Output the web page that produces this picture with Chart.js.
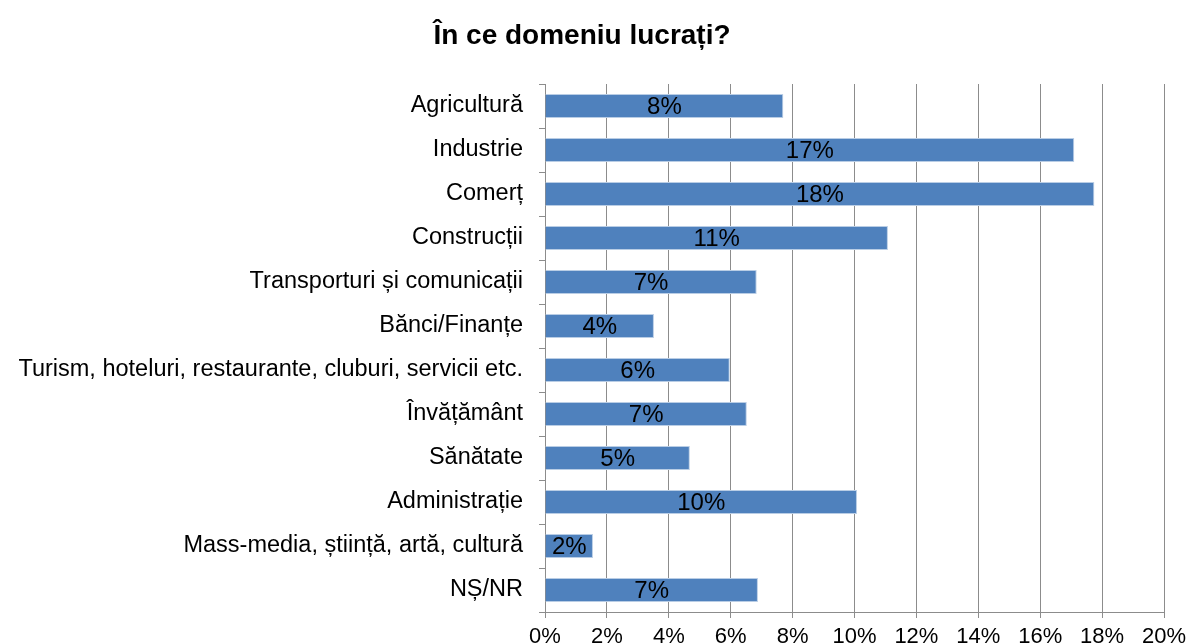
<!DOCTYPE html>
<html>
<head>
<meta charset="utf-8">
<script src="https://cdn.jsdelivr.net/npm/chart.js@4/dist/chart.umd.min.js"></script>
<style>
  html, body { margin: 0; padding: 0; background: #fff; overflow: hidden; }
  #wrap { width: 1190px; height: 660px; }
</style>
</head>
<body>
<div id="wrap"><canvas id="myChart" width="1190" height="660"></canvas></div>
<script>
// Chart data
const domains = ['Agricultură', 'Industrie', 'Comerț', 'Construcții', 'Transporturi și comunicații',
    'Bănci/Finanțe', 'Turism, hoteluri, restaurante, cluburi, servicii etc.', 'Învățământ',
    'Sănătate', 'Administrație', 'Mass-media, știință, artă, cultură', 'NȘ/NR'];
const shares = [7.7, 17.1, 17.75, 11.08, 6.84, 3.52, 5.97, 6.52, 4.68, 10.08, 1.55, 6.88];
const xTicks = [0, 2, 4, 6, 8, 10, 12, 14, 16, 18, 20];

const FONT = '"Liberation Sans", Arial, sans-serif';

// Draws the rounded percentage in the middle of each bar
const barLabels = {
    id: 'barLabels',
    afterDatasetsDraw(chart) {
        const ctx = chart.ctx;
        const meta = chart.getDatasetMeta(0);
        ctx.save();
        ctx.font = '24px ' + FONT;
        ctx.fillStyle = '#000';
        ctx.textAlign = 'center';
        ctx.textBaseline = 'middle';
        meta.data.forEach((bar, i) => {
            const mid = (bar.x + bar.base) / 2;
            ctx.fillText(Math.round(shares[i]) + '%', mid, bar.y + 1);
        });
        ctx.restore();
    }
};

let ctx = document.getElementById('myChart').getContext('2d');

let chart = new Chart(ctx, {
    type: 'bar',
    data: {
        labels: domains,
        datasets: [{
            data: shares,
            backgroundColor: '#4F81BD',
            borderColor: '#B9CDE5',
            borderWidth: 1,
            barPercentage: 0.55,
            categoryPercentage: 1
        }]
    },
    plugins: [barLabels],
    options: {
        indexAxis: 'y',
        responsive: false,
        animation: false,
        layout: { padding: { right: 26, left: 0, top: 0, bottom: 0 } },
        plugins: {
            legend: { display: false },
            tooltip: { enabled: false },
            title: {
                display: true,
                text: 'În ce domeniu lucrați?',
                color: '#000',
                font: { family: FONT, size: 28, weight: 'bold' },
                padding: { top: 19, bottom: 31.4 }
            }
        },
        scales: {
            x: {
                min: 0,
                max: 20,
                afterBuildTicks(axis) {
                    axis.ticks = xTicks.map(v => ({ value: v }));
                },
                afterFit(axis) {
                    axis.height = 48;
                    axis.paddingLeft = 0;
                    axis.paddingRight = 0;
                },
                grid: { color: '#8c8c8c', lineWidth: 1, tickLength: 6 },
                border: { color: '#8c8c8c' },
                ticks: {
                    color: '#000',
                    padding: 6,
                    font: { family: FONT, size: 22 },
                    callback: v => v + '%'
                }
            },
            y: {
                afterFit(axis) { axis.width = 545; },
                grid: { drawOnChartArea: false, color: '#8c8c8c', tickLength: 6, offset: true },
                border: { color: '#8c8c8c' },
                ticks: {
                    color: '#000',
                    padding: 16,
                    autoSkip: false,
                    font: { family: FONT, size: 23.5 }
                }
            }
        }
    }
});
</script>
</body>
</html>
